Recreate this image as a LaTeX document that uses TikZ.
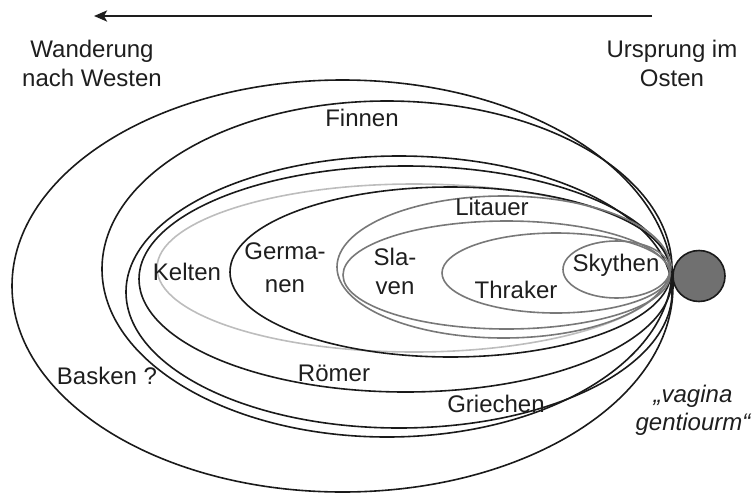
\documentclass[tikz,border=0pt]{standalone}
\usepackage{fontspec}
\setmainfont{Liberation Sans}
\usetikzlibrary{arrows.meta}
\definecolor{ink}{HTML}{1E1E1E}
\definecolor{ringdark}{HTML}{1A1A1A}
\definecolor{ringgray}{HTML}{787878}
\definecolor{ringlight}{HTML}{BDBDBD}
\definecolor{blob}{HTML}{707070}
\begin{document}
\begin{tikzpicture}[x=1pt,y=-1pt,
  lbl/.style={font=\fontsize{24}{29}\selectfont, text=ink, inner sep=0pt, anchor=base},
  ilbl/.style={lbl, font=\fontsize{24}{29}\selectfont\itshape},
  ringk/.style={draw=ringdark, line width=1.6pt},
  ringg/.style={draw=ringgray, line width=1.6pt},
  ringl/.style={draw=ringlight, line width=1.6pt},
  migr/.style={draw=ink, line width=2.6pt, -{Stealth[length=13pt,width=11pt,inset=3pt]}}]
\useasboundingbox (0,0) rectangle (755,493);
% arrow
\coordinate (east) at (652,16);
\coordinate (west) at (94,16);
\draw[migr] (east) -- (west);
% header labels
\node[lbl] (w1) at (92,57) {Wanderung};
\node[lbl] (w2) at (92,86) {nach Westen};
\node[lbl] (u1) at (672,57) {Ursprung im};
\node[lbl] (u2) at (672,86) {Osten};
% ellipses
\draw[ringk] (342.5,286) ellipse [x radius=330.5, y radius=206];
\draw[ringk] (387,269) ellipse [x radius=285, y radius=168];
\draw[ringk] (399,292) ellipse [x radius=273, y radius=136];
\draw[ringk] (405.5,279) ellipse [x radius=266.5, y radius=113];
\draw[ringl] (414,268) ellipse [x radius=257, y radius=84];
\draw[ringk] (450.5,272) ellipse [x radius=220.5, y radius=85];
\draw[ringg] (503.5,267) ellipse [x radius=166.5, y radius=71];
\draw[ringg] (506.5,275) ellipse [x radius=163.5, y radius=54];
\draw[ringg] (556,273) ellipse [x radius=114, y radius=40];
\draw[ringg] (616.5,269.5) ellipse [x radius=53.5, y radius=28.5];
% origin blob
\draw[draw=ringdark, line width=1.6pt, fill=blob] (699,276) ellipse [x radius=26, y radius=25.5];
% labels
\node[lbl] (finnen) at (362,126) {Finnen};
\node[lbl] (kelten) at (187,280) {Kelten};
\node[lbl] (germa1) at (285,259) {Germa-};
\node[lbl] (germa2) at (285,292) {nen};
\node[lbl] (sla1) at (395,265) {Sla-};
\node[lbl] (sla2) at (395,294) {ven};
\node[lbl] (litauer) at (492,215) {Litauer};
\node[lbl] (thraker) at (516,298) {Thraker};
\node[lbl] (skythen) at (616,271) {Skythen};
\node[lbl] (roemer) at (334,381) {Römer};
\node[lbl] (basken) at (107,384) {Basken ?};
\node[lbl] (griechen) at (496,412) {Griechen};
\node[ilbl] (vag1) at (693,402) {„vagina};
\node[ilbl] (vag2) at (693,430) {gentiourm“};
\end{tikzpicture}
\end{document}
